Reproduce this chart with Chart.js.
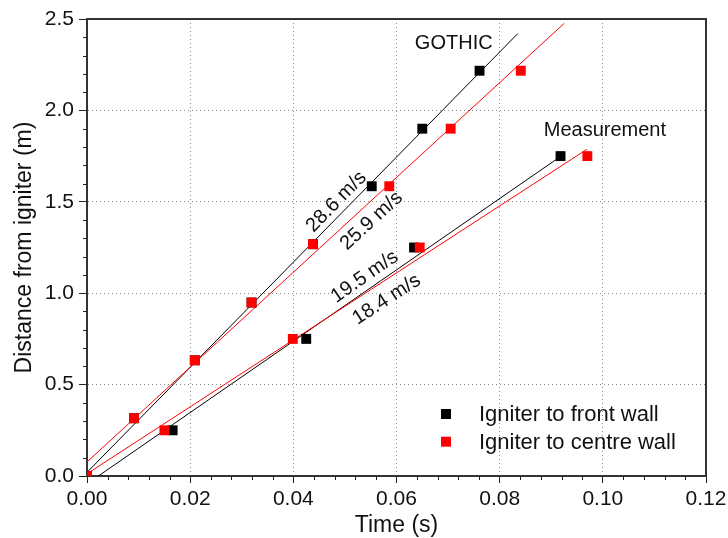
<!DOCTYPE html>
<html>
<head>
    <title>Flame speed - GOTHIC vs measurement</title>
    <meta charset="UTF-8">
    <script src="https://cdn.jsdelivr.net/npm/chart.js"></script>
    <style>
        body { margin: 0; background: #fff; }
        canvas { display: block; }
    </style>
</head>
<body>
    <canvas id="speed_chart" width="728" height="538"></canvas>
    <script>
        // GOTHIC points (time s, distance m)
        var gothicFrontT = [0, 0.0091, 0.0209, 0.0319, 0.0438, 0.0552, 0.0650, 0.0761];
        var gothicFrontD = [0, 0.316, 0.633, 0.949, 1.268, 1.585, 1.900, 2.217];
        var gothicCentreT = [0, 0.0091, 0.0209, 0.0319, 0.0438, 0.0586, 0.0705, 0.0841];
        var gothicCentreD = [0, 0.316, 0.633, 0.949, 1.268, 1.585, 1.900, 2.217];

        // measured points
        var measFrontT = [0.0166, 0.0425, 0.0634, 0.0918];
        var measFrontD = [0.25, 0.75, 1.25, 1.75];
        var measCentreT = [0.0150, 0.0399, 0.0645, 0.0970];
        var measCentreD = [0.25, 0.75, 1.25, 1.75];

        // linear fits: gothic front, gothic centre, meas front, meas centre
        var fitNames = ['28.6 m/s', '25.9 m/s', '19.5 m/s', '18.4 m/s'];
        var fitT = [[0, 0.0835], [0, 0.0925], [0.0022, 0.0917], [0, 0.0969]];
        var fitD = [[0.02, 2.42], [0.077, 2.476], [0, 1.746], [0.012, 1.787]];

        var seriesNames = ['Igniter to front wall', 'Igniter to centre wall'];
        var xTicks = [0, 0.02, 0.04, 0.06, 0.08, 0.10, 0.12];
        var yTicks = [0, 0.5, 1.0, 1.5, 2.0, 2.5];

        var FONT = 'Liberation Sans, Arial, sans-serif';
        var BLACK = '#000000';
        var RED = '#ff0000';

        function pairs(t, d) {
            return t.map(function(v, i) { return {x: v, y: d[i]}; });
        }

        function pointSet(t, d, color) {
            return {
                data: pairs(t, d),
                showLine: false,
                pointStyle: 'rect',
                pointRadius: 7,
                pointHoverRadius: 7,
                pointBackgroundColor: color,
                pointBorderWidth: 0,
                borderColor: color,
                clip: 0
            };
        }

        function fitSet(i, color) {
            return {
                data: pairs(fitT[i], fitD[i]),
                showLine: true,
                pointRadius: 0,
                borderColor: color,
                borderWidth: 1,
                fill: false
            };
        }

        // label placement along each fit: x on the line, perpendicular offset (px, + = above)
        var fitLabelX = [0.04995, 0.0532, 0.0552, 0.0563];
        var fitLabelOff = [11.6, -15, 12.4, -17];

        // 坐标轴外框、次刻度、文字标注和图例
        var decorPlugin = {
            id: 'decor',
            afterDraw: function(chart) {
                var ctx = chart.ctx;
                var a = chart.chartArea;
                var xs = chart.scales.x;
                var ys = chart.scales.y;
                ctx.save();

                // minor ticks
                ctx.strokeStyle = '#222';
                ctx.lineWidth = 1;
                ctx.beginPath();
                for (var i = 1; i < 30; i++) {
                    if (i % 5 === 0) continue;
                    var px = Math.round(xs.getPixelForValue(i * 0.004)) + 0.5;
                    ctx.moveTo(px, a.bottom);
                    ctx.lineTo(px, a.bottom + 4);
                }
                for (var j = 1; j < 25; j++) {
                    if (j % 5 === 0) continue;
                    var py = Math.round(ys.getPixelForValue(j * 0.1)) + 0.5;
                    ctx.moveTo(a.left - 4, py);
                    ctx.lineTo(a.left, py);
                }
                ctx.stroke();

                // top and right frame
                ctx.strokeStyle = '#333';
                ctx.lineWidth = 2;
                ctx.beginPath();
                ctx.moveTo(a.left, a.top);
                ctx.lineTo(a.right, a.top);
                ctx.lineTo(a.right, a.bottom);
                ctx.stroke();

                // speed labels along fit lines
                ctx.fillStyle = '#111';
                ctx.font = '20px ' + FONT;
                ctx.textAlign = 'center';
                ctx.textBaseline = 'middle';
                for (var k = 0; k < fitNames.length; k++) {
                    var x0 = xs.getPixelForValue(fitT[k][0]), y0 = ys.getPixelForValue(fitD[k][0]);
                    var x1 = xs.getPixelForValue(fitT[k][1]), y1 = ys.getPixelForValue(fitD[k][1]);
                    var ang = Math.atan2(y1 - y0, x1 - x0);
                    var lx = fitLabelX[k];
                    var ly = fitD[k][0] + (lx - fitT[k][0]) * (fitD[k][1] - fitD[k][0]) / (fitT[k][1] - fitT[k][0]);
                    var cx = xs.getPixelForValue(lx) + fitLabelOff[k] * Math.sin(ang);
                    var cy = ys.getPixelForValue(ly) - fitLabelOff[k] * Math.cos(ang);
                    ctx.save();
                    ctx.translate(cx, cy);
                    ctx.rotate(ang);
                    ctx.fillText(fitNames[k], 0, 0);
                    ctx.restore();
                }

                // group labels
                ctx.fillText('GOTHIC', xs.getPixelForValue(0.0711), ys.getPixelForValue(2.368));
                ctx.fillText('Measurement', xs.getPixelForValue(0.1004), ys.getPixelForValue(1.892));

                // legend
                var colors = [BLACK, RED];
                var lx0 = a.right - 260;
                var ly0 = a.bottom - 62;
                ctx.font = '22px ' + FONT;
                ctx.textAlign = 'left';
                for (var m = 0; m < seriesNames.length; m++) {
                    var yy = ly0 + m * 27.7;
                    ctx.fillStyle = colors[m];
                    ctx.fillRect(lx0 - 5, yy - 5, 10, 10);
                    ctx.fillStyle = '#111';
                    ctx.fillText(seriesNames[m], lx0 + 33, yy + 1);
                }
                ctx.restore();
            }
        };

        Chart.defaults.font.family = FONT;
        Chart.defaults.color = '#111';

        var ctx = document.getElementById('speed_chart').getContext('2d');
        var chart = new Chart(ctx, {
            type: 'scatter',
            data: {
                datasets: [
                    pointSet(gothicCentreT, gothicCentreD, RED),
                    pointSet(measCentreT, measCentreD, RED),
                    pointSet(gothicFrontT, gothicFrontD, BLACK),
                    pointSet(measFrontT, measFrontD, BLACK),
                    fitSet(1, RED),
                    fitSet(3, RED),
                    fitSet(0, BLACK),
                    fitSet(2, BLACK)
                ]
            },
            options: {
                responsive: false,
                animation: false,
                layout: { padding: { top: 19, right: 22, left: 0, bottom: 0 } },
                plugins: {
                    legend: { display: false },
                    tooltip: { enabled: false }
                },
                scales: {
                    x: {
                        type: 'linear',
                        position: 'bottom',
                        min: 0,
                        max: 0.12,
                        afterFit: function(s) {
                            s.height = 62;
                            s.paddingLeft = 0;
                            s.paddingRight = 0;
                        },
                        afterBuildTicks: function(s) {
                            s.ticks = xTicks.map(function(v) { return {value: v}; });
                        },
                        ticks: {
                            font: { size: 21 },
                            padding: 4,
                            maxRotation: 0,
                            callback: function(v) { return Number(v).toFixed(2); }
                        },
                        grid: {
                            color: '#888',
                            lineWidth: 1,
                            tickLength: 7,
                            tickColor: '#222',
                            tickWidth: 1,
                            tickBorderDash: []
                        },
                        border: { color: '#333', width: 2, dash: [1, 3] },
                        title: {
                            display: true,
                            text: 'Time (s)',
                            font: { size: 23, lineHeight: 1.1 },
                            padding: { top: 0, bottom: 0 }
                        }
                    },
                    y: {
                        type: 'linear',
                        min: 0,
                        max: 2.5,
                        afterFit: function(s) { s.width = 87; },
                        afterBuildTicks: function(s) {
                            s.ticks = yTicks.map(function(v) { return {value: v}; });
                        },
                        ticks: {
                            font: { size: 21 },
                            padding: 5,
                            callback: function(v) { return Number(v).toFixed(1); }
                        },
                        grid: {
                            color: '#888',
                            lineWidth: 1,
                            tickLength: 8,
                            tickColor: '#222',
                            tickWidth: 1,
                            tickBorderDash: []
                        },
                        border: { color: '#333', width: 2, dash: [1, 3] },
                        title: {
                            display: true,
                            text: 'Distance from igniter (m)',
                            font: { size: 23 },
                            padding: { top: 11, bottom: 0 }
                        }
                    }
                }
            },
            plugins: [decorPlugin]
        });
    </script>
</body>
</html>
